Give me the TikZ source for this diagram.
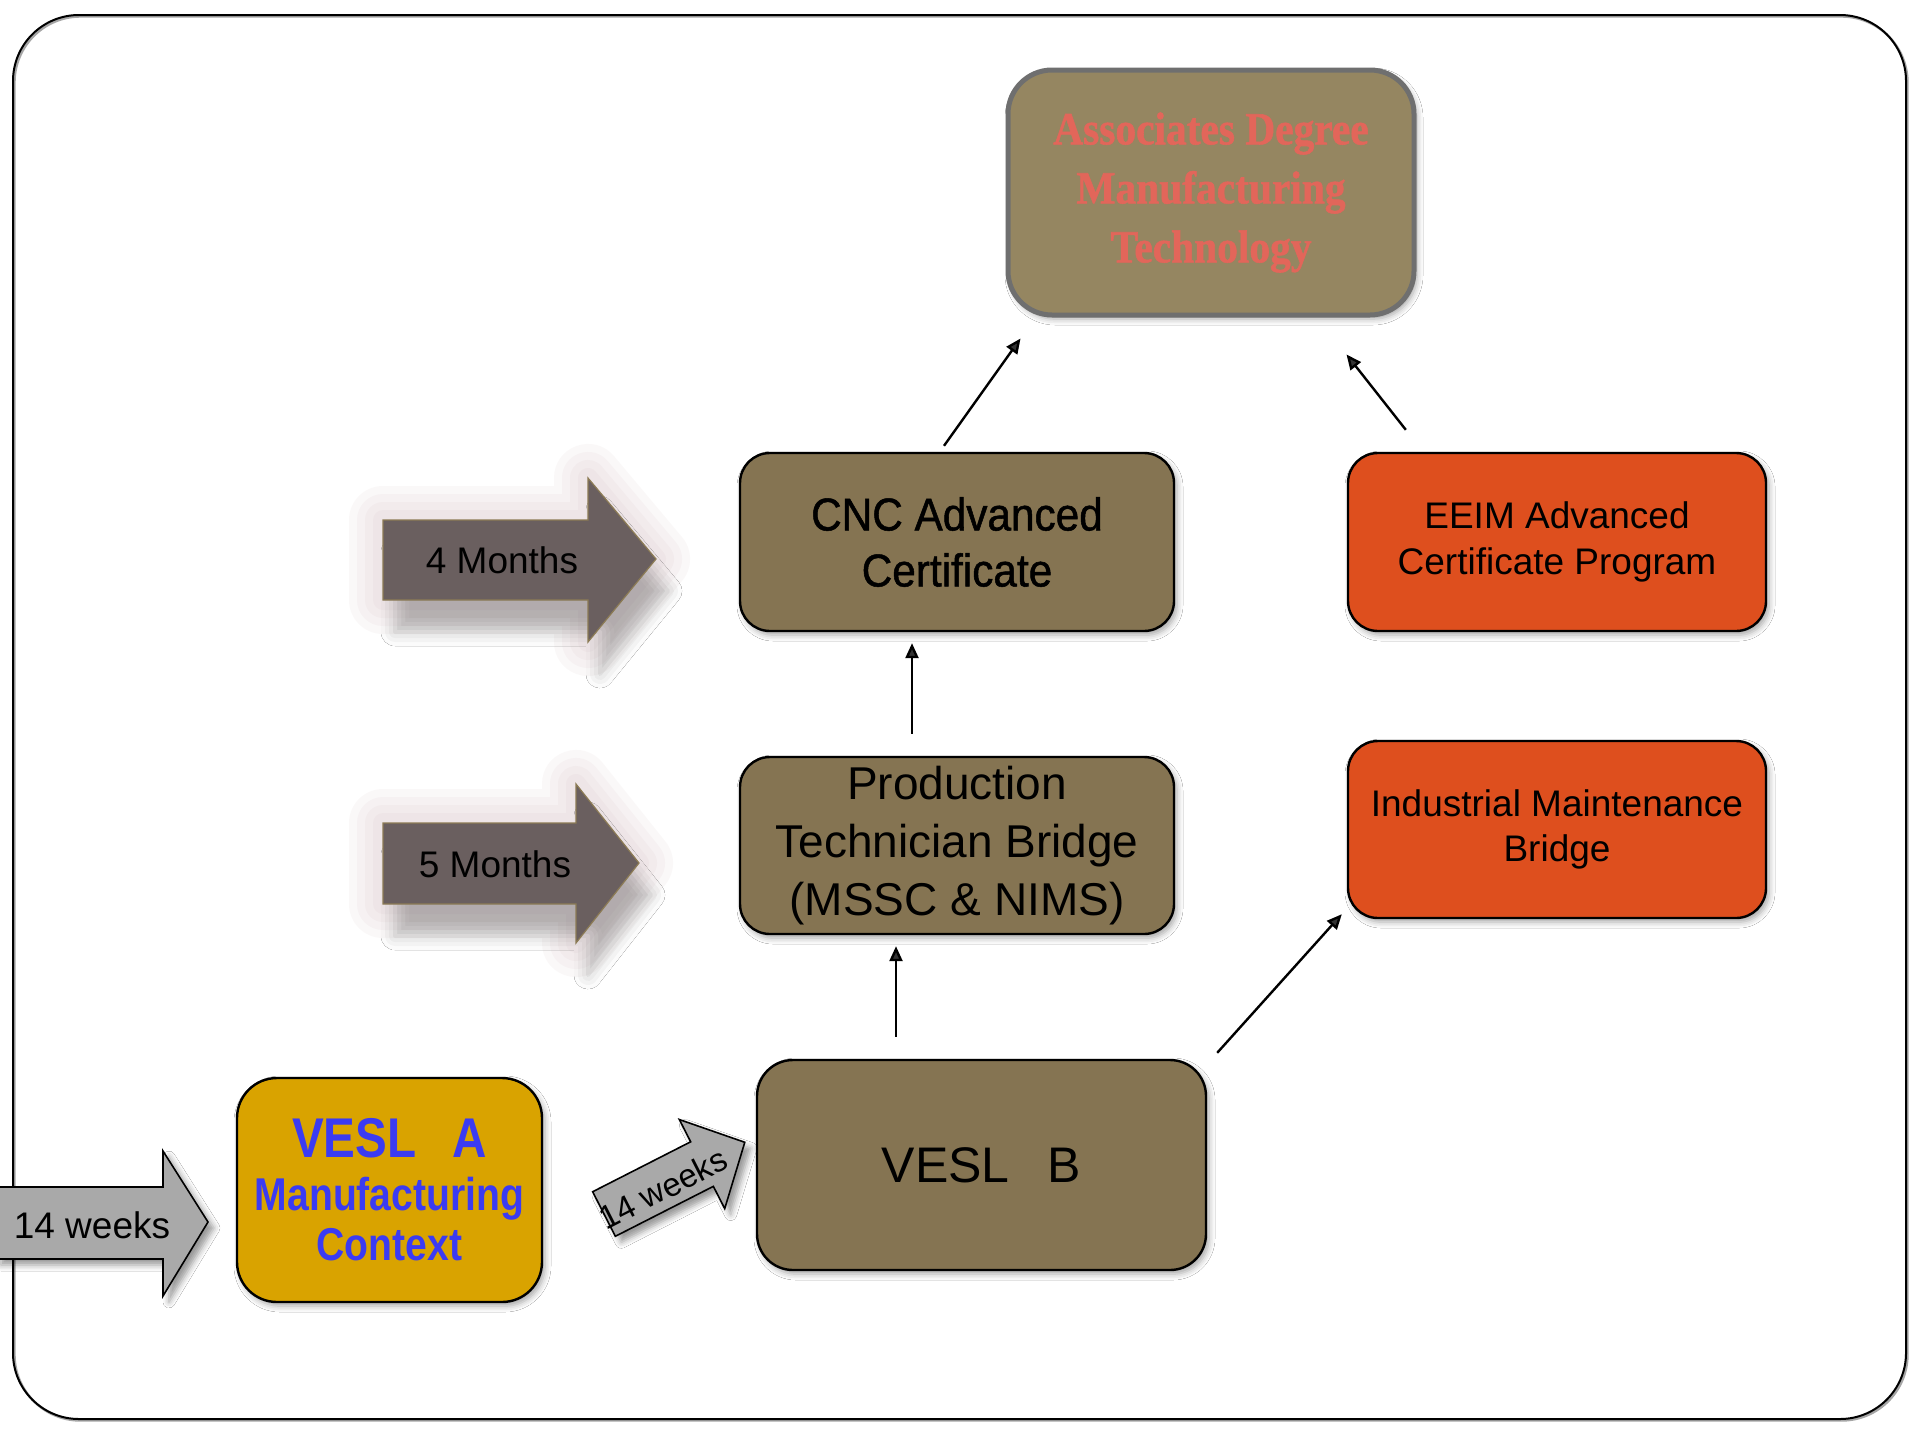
\documentclass[tikz,border=0pt]{standalone}
\usepackage{fontspec}
\setmainfont{Liberation Sans}
\newfontfamily\cncfont[FakeStretch=0.92,FakeBold=1.1]{Liberation Sans}
\newfontfamily\veslafont[FakeStretch=0.85]{Liberation Sans}
\newfontfamily\assocfont[FakeStretch=0.9,FakeBold=1.2]{Liberation Serif}
\usetikzlibrary{arrows.meta,shadows.blur}
\definecolor{brownfill}{HTML}{857452}
\definecolor{assocfill}{HTML}{958661}
\definecolor{assocedge}{HTML}{6F6F6F}
\definecolor{orangefill}{HTML}{DE4F1E}
\definecolor{yellowfill}{HTML}{D9A300}
\definecolor{veslblue}{HTML}{3B3BF2}
\definecolor{assoctext}{HTML}{E2665A}
\definecolor{monthfill}{HTML}{6A5F5F}
\definecolor{monthedge}{HTML}{8C7B55}
\definecolor{glowcol}{HTML}{C4A0A6}
\definecolor{arrowgray}{HTML}{A9A9A9}
\newcommand\fourarrow[1]{\draw[#1] (383,520) -- (588,520) -- (588,478) -- (656,559) -- (588,642) -- (588,600) -- (383,600) -- cycle;}
\newcommand\fivearrow[1]{\draw[#1] (383,823) -- (576,823) -- (576,784) -- (639,863) -- (576,943) -- (576,904) -- (383,904) -- cycle;}
\begin{document}
\begin{tikzpicture}[x=0.5pt,y=-0.5pt,
  box/.style={draw=black, line width=1.2pt, rounded corners=15pt, align=center, inner sep=0pt,
    blur shadow={shadow xshift=1.5pt, shadow yshift=-2pt, shadow opacity=35, shadow blur radius=3pt}},
  conn/.style={-{Triangle[length=7.5pt,width=6.5pt]}, line width=1.2pt},
  glow/.style={draw=glowcol, line width=#1, opacity=0.07, line join=round},
  montharrow/.style={fill=monthfill, draw=monthedge, line width=0.6pt,
    blur shadow={shadow xshift=6pt, shadow yshift=-16pt, shadow opacity=25, shadow blur radius=7pt}},
  grayarrow/.style={fill=arrowgray, draw=black, line width=0.8pt,
    blur shadow={shadow xshift=3pt, shadow yshift=-3pt, shadow opacity=40, shadow blur radius=3pt}},
  lbl/.style={font=\fontsize{18.5}{22}\selectfont, text=black, inner sep=0pt}
]
\useasboundingbox (0,0) rectangle (1920,1440);
\fill[white] (0,0) rectangle (1920,1440);
% frame
\draw[gray!70, line width=1.2pt, rounded corners=33pt] (14.5,16.5) rectangle (1907.5,1420.5);
\draw[black, line width=1pt, rounded corners=33pt] (13,15) rectangle (1906,1419);

% top node
\node[box, draw=assocedge, line width=2.5pt, fill=assocfill, rounded corners=22pt,
      minimum width=203pt, minimum height=122.5pt,
      font={\assocfont\bfseries\fontsize{23}{29.5}\selectfont}, text=assoctext] (assoc) at (1211,192.5)
      {Associates Degree\\Manufacturing\\Technology};

% brown nodes
\node[box, fill=brownfill, minimum width=217pt, minimum height=89pt,
      font={\cncfont\fontsize{23}{28}\selectfont}] (cnc) at (957,542) {CNC Advanced\\Certificate};
\node[box, fill=brownfill, minimum width=217pt, minimum height=88.5pt,
      font={\fontsize{23}{28.8}\selectfont}] (prod) at (957,845.5)
      {Production\\Technician Bridge\\(MSSC \& NIMS)};
\node[box, fill=brownfill, rounded corners=18pt, minimum width=224.5pt, minimum height=105pt,
      font={\fontsize{25}{30}\selectfont}] (vb) at (981.5,1165) {VESL\hspace{19pt}B};

% orange nodes
\node[box, fill=orangefill, minimum width=209pt, minimum height=89pt,
      font={\fontsize{18.5}{22.7}\selectfont}] (eeim) at (1557,542)
      {EEIM Advanced\\Certificate Program};
\node[box, fill=orangefill, minimum width=209pt, minimum height=88.5pt,
      font={\fontsize{18.5}{22.7}\selectfont}] (ind) at (1557,829.5)
      {Industrial Maintenance\\Bridge};

% yellow node
\node[box, fill=yellowfill, rounded corners=20pt, minimum width=152.5pt, minimum height=112pt,
      font={\veslafont\bfseries\fontsize{23}{25}\selectfont}, text=veslblue] (va) at (389.5,1190)
      {{\fontsize{28}{28}\selectfont VESL\hspace{18pt}A}\\[1.5pt]Manufacturing\\Context};

% month arrows with glow
\fourarrow{glow=34pt}
\fourarrow{glow=26pt}
\fourarrow{glow=18pt}
\fourarrow{glow=10pt}
\fourarrow{montharrow}
\node[lbl] (m4) at (502,560) {4 Months};
\fivearrow{glow=34pt}
\fivearrow{glow=26pt}
\fivearrow{glow=18pt}
\fivearrow{glow=10pt}
\fivearrow{montharrow}
\node[lbl] (m5) at (495,864) {5 Months};

% gray arrows
\draw[grayarrow] (-5,1187) -- (163,1187) -- (163,1151) -- (208,1222) -- (163,1296) -- (163,1259) -- (-5,1259) -- cycle;
\node[lbl] (w1) at (92,1225) {14 weeks};
\begin{scope}[shift={(604,1214)}, rotate=27]
  \draw[grayarrow] (0,-25) -- (110,-25) -- (110,-50) -- (158,0) -- (110,50) -- (110,25) -- (0,25) -- cycle;
  \node[lbl, transform shape, font=\fontsize{16.5}{20}\selectfont] (w2) at (64,4) {14 weeks};
\end{scope}

% connectors
\draw[conn] ([shift={(-13,-6)}]cnc.north) -- ([shift={(15,21)}]assoc.south west);
\draw[conn] ([shift={(59,-22)}]eeim.north west) -- ([shift={(-70,37)}]assoc.south east);
\draw[conn] ([shift={(-45,-22)}]prod.north) -- ([shift={(-45,11)}]cnc.south);
\draw[conn] ([shift={(-85.5,-22)}]vb.north) -- ([shift={(-61,11)}]prod.south);
\draw[conn] ([shift={(10,-6)}]vb.north east) -- ([shift={(-5,-5)}]ind.south west);
\end{tikzpicture}
\end{document}
